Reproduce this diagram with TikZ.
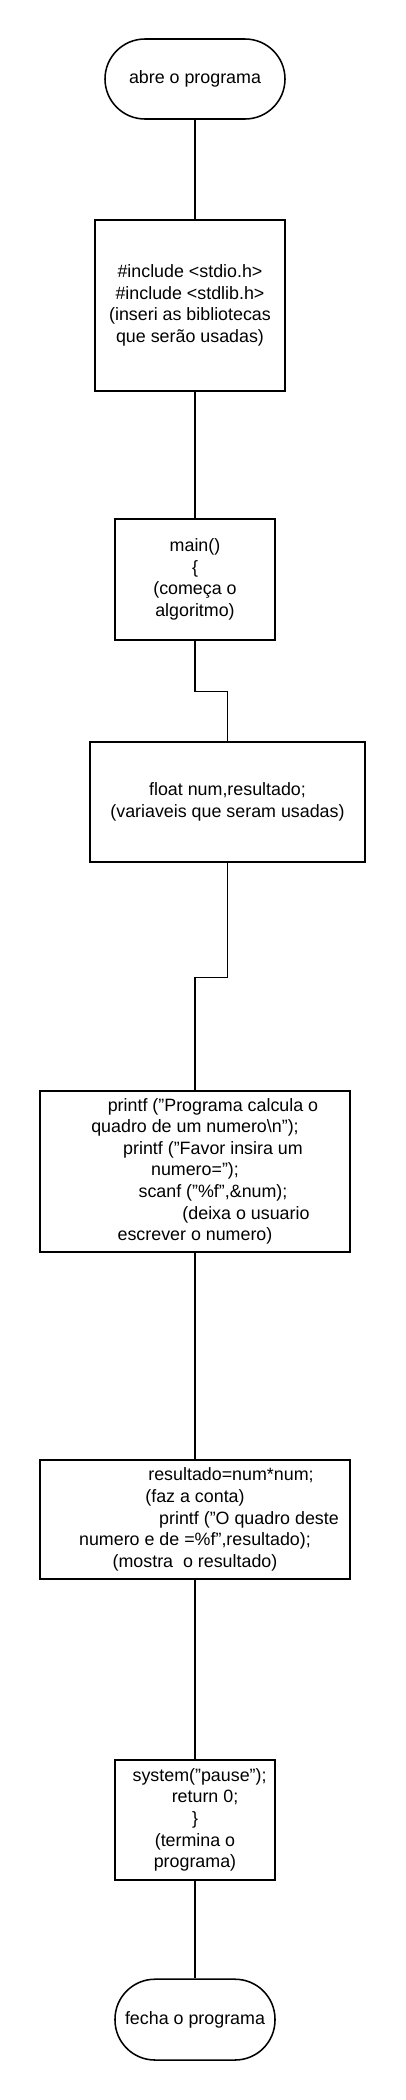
\documentclass[tikz,border=0pt]{standalone}
\usepackage{fontspec}
\setmainfont{Liberation Sans}
\begin{document}
\begin{tikzpicture}[line width=1.1pt,
  caixa/.style={draw, inner sep=0pt, align=center, font=\fontsize{12.7}{15.4}\selectfont},
  terminal/.style={caixa, rounded corners=1cm}]
\useasboundingbox (0,0) rectangle (10.125,-52.5);
\node (abre)[terminal, minimum width=4.5cm, minimum height=2cm] at (4.875, -1.975) {abre o programa};
\node (include)[caixa, minimum width=4.75cm, minimum height=4.275cm] at (4.75, -7.6375) {\#include <stdio.h>\\\#include <stdlib.h>\\(inseri as bibliotecas\\que serão usadas)};
\node (mainf)[caixa, minimum width=4cm, minimum height=3.025cm] at (4.875, -14.4875) {main()\\\{\\(começa o\\algoritmo)};
\node (vars)[caixa, minimum width=6.875cm, minimum height=3cm] at (5.6875, -20.045) {float num,resultado;\\(variaveis que seram usadas)};
\node (leitura)[caixa, minimum width=7.75cm, minimum height=4.02cm] at (4.875, -29.284) {\hspace*{0.9cm}printf ("Programa calcula o\\quadro de um numero\textbackslash n");\\\hspace*{0.9cm}printf ("Favor insira um\\numero=");\\\hspace*{0.9cm}scanf ("\%f",\&num);\\\hspace*{2.55cm}(deixa o usuario\\escrever o numero)};
\node (calculo)[caixa, minimum width=7.75cm, minimum height=2.98cm] at (4.875, -37.99) {\hspace*{1.8cm}resultado=num*num;\\(faz a conta)\\\hspace*{2.7cm}printf ("O quadro deste\\numero e de =\%f",resultado);\\(mostra\ \ o resultado)};
\node (fim)[caixa, minimum width=4cm, minimum height=3cm] at (4.875, -45.5) {\hspace*{0.23cm}system("pause");\\\hspace*{0.5cm}return 0;\\\}\\(termina o\\programa)};
\node (fecha)[terminal, minimum width=4cm, minimum height=2.02cm] at (4.875, -50.49) {fecha o programa};
\draw (abre.south) -- (abre.south |- include.north);
\draw (include.south -| mainf.north) -- (mainf.north);
\draw (mainf.south) -- ++(0,-1.27) -| (vars.north);
\draw (vars.south) -- ++(0,-2.87) -| (leitura.north);
\draw (leitura) -- (calculo);
\draw (calculo) -- (fim);
\draw (fim) -- (fecha);
\end{tikzpicture}
\end{document}
